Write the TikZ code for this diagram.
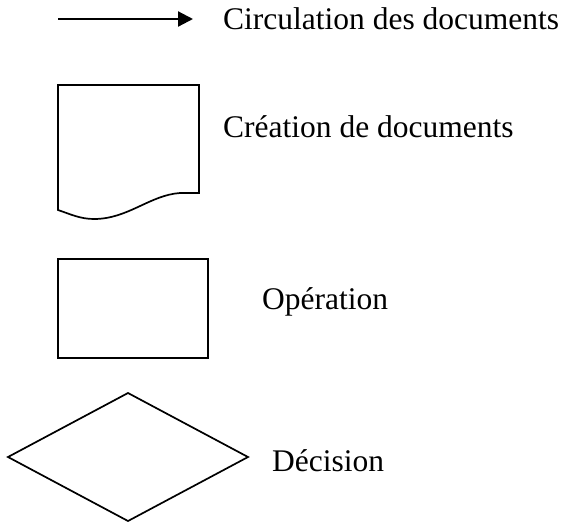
\documentclass[tikz,border=0pt]{standalone}
\usepackage{fontspec}
\setmainfont{Liberation Serif}
\usetikzlibrary{arrows.meta}
\begin{document}
\begin{tikzpicture}[x=1pt,y=-1pt,
  label text/.style={anchor=base west,inner sep=0pt,font=\fontsize{31.5}{38}\selectfont},
  shape line/.style={draw=black,line width=1.7pt,line join=miter},
  flow/.style={draw=black,line width=2.2pt,-{Triangle[length=15pt,width=15pt]}}]
  \useasboundingbox (0,0) rectangle (564,523);

  % document flow legend
  \coordinate (flowstart) at (58,19);
  \coordinate (flowend) at (193,19);
  \draw[flow] (flowstart) -- (flowend);
  \node[label text] (flowtxt) at (223,29) {Circulation des documents};

  % document symbol
  \draw[shape line] (58,85) -- (199,85) -- (199,193) -- (180,193)
    .. controls (150,195) and (128,219) .. (94,219)
    .. controls (80,219) and (70,214) .. (58,210) -- cycle;
  \node[label text] (doctxt) at (223,137) {Création de documents};

  % operation symbol
  \draw[draw=black,line width=2.5pt] (58,259) rectangle (208,358);
  \node[label text] (optxt) at (262,309) {Opération};

  % decision symbol
  \draw[shape line] (8,457) -- (128,393) -- (248,457) -- (128,521) -- cycle;
  \node[label text] (dectxt) at (272,471) {Décision};
\end{tikzpicture}
\end{document}
